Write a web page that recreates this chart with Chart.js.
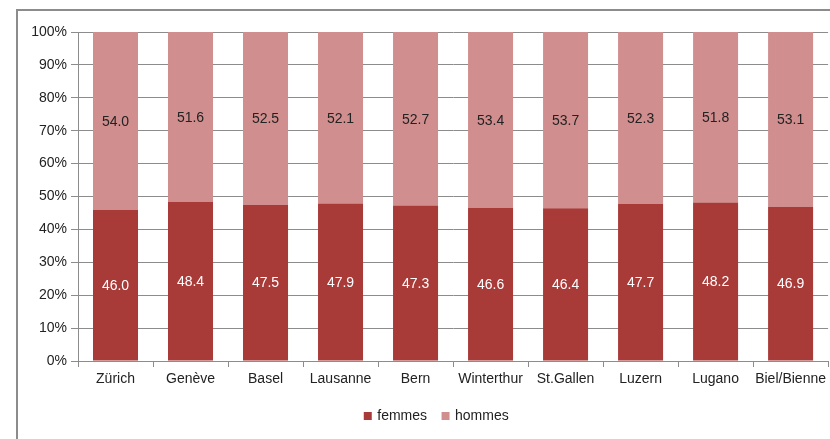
<!DOCTYPE html>
<html>
<head>
<meta charset="utf-8">
<script src="https://cdn.jsdelivr.net/npm/chart.js@4/dist/chart.umd.min.js"></script>
<style>
  body { margin: 0; background: #fff; }
  #wrap { position: relative; width: 830px; height: 439px; overflow: hidden; }
  #frame { position: absolute; left: 16px; top: 9px; width: 900px; height: 500px; border: 2px solid #8c8c8c; box-sizing: border-box; }
  canvas { position: absolute; left: 0; top: 0; }
</style>
</head>
<body>
<div id="wrap">
  <div id="frame"></div>
  <canvas id="c" width="830" height="439"></canvas>
</div>
<script>
const cities = ['Zürich', 'Genève', 'Basel', 'Lausanne', 'Bern', 'Winterthur', 'St.Gallen', 'Luzern', 'Lugano', 'Biel/Bienne'];
const femmes = [46.0, 48.4, 47.5, 47.9, 47.3, 46.6, 46.4, 47.7, 48.2, 46.9];
const hommes = [54.0, 51.6, 52.5, 52.1, 52.7, 53.4, 53.7, 52.3, 51.8, 53.1];

const FONT = 'Liberation Sans, Arial, sans-serif';

// writes the value in the middle of each bar segment
const segmentLabels = {
  id: 'segmentLabels',
  afterDatasetsDraw(chart) {
    const ctx = chart.ctx;
    ctx.save();
    ctx.font = '14px ' + FONT;
    ctx.textAlign = 'center';
    ctx.textBaseline = 'middle';
    chart.data.datasets.forEach((ds, i) => {
      chart.getDatasetMeta(i).data.forEach((bar, j) => {
        const p = bar.getProps(['x', 'y', 'base'], true);
        ctx.fillStyle = ds.labelColor;
        ctx.fillText(ds.data[j].toFixed(1), p.x, (p.y + p.base) / 2 + 1);
      });
    });
    ctx.restore();
  }
};

// legend sits a bit right of the canvas centre in the original
const legendShift = {
  id: 'legendShift',
  afterLayout(chart) {
    chart.legend.left += 13;
    chart.legend.right += 13;
  }
};

new Chart(document.getElementById('c'), {
  type: 'bar',
  data: {
    labels: cities,
    datasets: [
      { label: 'femmes', data: femmes, backgroundColor: '#a83a38', labelColor: '#ffffff', borderWidth: 0 },
      { label: 'hommes', data: hommes, backgroundColor: '#d18e8e', labelColor: '#222222', borderWidth: 0 }
    ]
  },
  options: {
    responsive: false,
    animation: false,
    devicePixelRatio: 1,
    barPercentage: 0.6,
    categoryPercentage: 1,
    layout: { padding: { left: 18, top: 32, right: 0, bottom: 6 } },
    scales: {
      x: {
        stacked: true,
        afterFit(s) { s.height = 32; },
        grid: { drawOnChartArea: false, drawTicks: true, tickLength: 6, color: '#8c8c8c' },
        border: { color: '#8c8c8c' },
        ticks: { color: '#222', font: { family: FONT, size: 14 }, padding: 4, maxRotation: 0 }
      },
      y: {
        stacked: true,
        min: 0,
        max: 100,
        afterFit(s) { s.width = 60; },
        grid: { color: '#8c8c8c', tickLength: 7 },
        border: { color: '#8c8c8c' },
        ticks: { stepSize: 10, color: '#222', font: { family: FONT, size: 14 }, padding: 4, callback: v => v + '%' }
      }
    },
    plugins: {
      tooltip: { enabled: false },
      legend: {
        position: 'bottom',
        labels: {
          color: '#222', font: { family: FONT, size: 14 },
          usePointStyle: true, pointStyle: 'rect', boxWidth: 5, boxHeight: 8, padding: 16
        }
      }
    }
  },
  plugins: [segmentLabels, legendShift]
});
</script>
</body>
</html>
